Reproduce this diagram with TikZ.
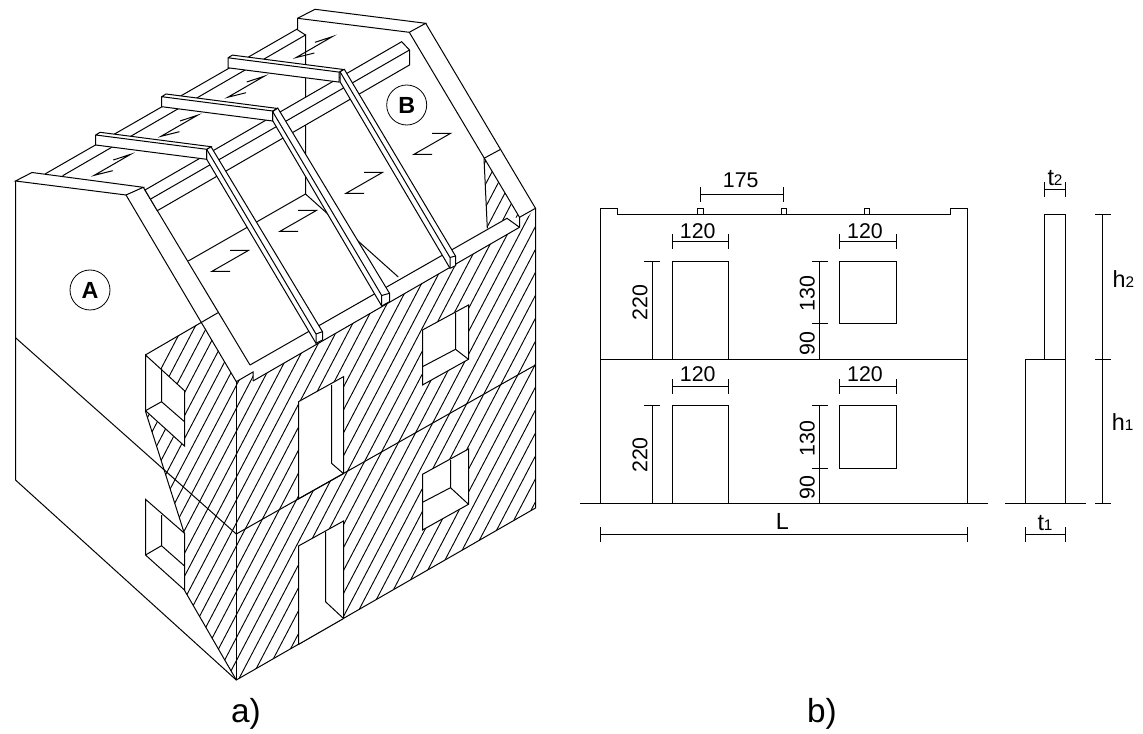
\documentclass[tikz,border=0pt]{standalone}
\usepackage{fontspec}
\setmainfont{Liberation Sans}
\newcommand{\subdigit}[1]{{\fontsize{11.5}{12}\selectfont #1}}
\tikzset{
    edge/.style={line width=0.75pt,line join=miter},
    solid white/.style={edge,draw=black,fill=white},
    hatchline/.style={line width=0.7pt},
    dimline/.style={line width=0.75pt},
    dimtext/.style={inner sep=0pt,font=\fontsize{16}{17}\selectfont},
    lettertext/.style={inner sep=0pt,font=\fontsize{17.5}{18}\selectfont},
    bigtext/.style={inner sep=0pt,font=\fontsize{25}{26}\selectfont},
    marker/.style={circle,draw,line width=0.6pt,minimum size=30pt,inner sep=0pt,font=\bfseries\fontsize{17.5}{18}\selectfont},
}
\begin{document}
\begin{tikzpicture}[x=0.75pt,y=-0.75pt,edge]
    \useasboundingbox (0,0) rectangle (1143,734);
    %
    % hatching of the two walls and the gable corner
    \begin{scope}
        \clip (145.3,355) -- (201.7,321.7) -- (236.3,381.7) -- (253,372) -- (253,381)
            -- (519.3,227.3) -- (535,208.3) -- (535,508) -- (236.3,680) -- (184.3,590)
            -- (184.3,533.3) -- (145.3,410.7) -- (184.3,446) -- (184.3,390.7) -- cycle
            (484,158.3) -- (519.3,217.3) -- (507,218.3) -- (487.3,228.3) -- cycle;
        \foreach \k in {-8,...,30}
            \draw[hatchline] ({449.9+12*\k-0.523*140},140) -- ({449.9+12*\k-0.523*700},700);
    \end{scope}
    %
    % isometric outline
    \draw (15.5,181) -- (15.5,480) -- (236.3,680) -- (535.5,508) -- (535.5,208.3);
    \draw (236.5,381.7) -- (236.5,680);
    \draw (145.3,410.7) -- (184.3,533.3);
    \draw (184.3,590) -- (236.3,680);
    \draw (145.3,355) -- (218,312.7);
    %
    % openings in the side wall
    \draw[solid white] (145.5,355) -- (184.5,390.7) -- (184.5,446) -- (145.5,410.7) -- cycle;
    \draw (161.5,368.3) -- (161.5,401.7) -- (184.5,421.7);
    \draw (145.5,410.7) -- (161.5,401.7);
    \draw[solid white] (145.5,499.3) -- (184.5,533.3) -- (184.5,590) -- (145.5,555) -- cycle;
    \draw (161.5,515) -- (161.5,545.7) -- (184.5,566);
    \draw (145.5,555) -- (161.5,545.7);
    %
    % openings in the front wall
    \draw[solid white] (298.5,401.7) -- (343.5,376.7) -- (343.5,473.6) -- (298.5,498.9) -- cycle;
    \draw (331.5,385) -- (331.5,463.3) -- (343.5,473.6);
    \draw[solid white] (298.5,546) -- (343.5,521) -- (343.5,618.5) -- (298.5,644.4) -- cycle;
    \draw (325.5,531.7) -- (325.5,601.7) -- (343.5,618.5);
    \draw[solid white] (422.5,330) -- (468.5,305) -- (468.5,359.3) -- (422.5,385) -- cycle;
    \draw (455.5,312.7) -- (455.5,349.3) -- (468.5,359.3);
    \draw (422.5,366.7) -- (455.5,349.3);
    \draw[solid white] (422.5,474.3) -- (468.5,449) -- (468.5,504.3) -- (422.5,530) -- cycle;
    \draw (450.5,460) -- (450.5,487.7) -- (468.5,504.3);
    \draw (422.5,502.3) -- (450.5,487.7);
    %
    % floor lines
    \draw (15.5,337.7) -- (236.3,534) -- (535.5,365);
    %
    % gable A
    \draw (15.5,181) -- (32,172.5) -- (143.3,187.3) -- (126,195) -- cycle;
    \draw (126,195) -- (236.3,381.7) -- (253,372) -- (253,381);
    \draw (143.3,187.3) -- (250,365);
    % gable B
    \draw (297.5,29.3) -- (297.5,18.3) -- (315,9.3) -- (425.7,23.3) -- (409.3,32.3) -- (297.5,18.3);
    \draw (409.3,32.3) -- (519.5,217.3) -- (519.5,227.3);
    \draw (425.7,23.3) -- (535.5,208.3) -- (519.5,217.3);
    \draw (484,158.3) -- (500.7,149.3);
    \draw (484,158.3) -- (487.3,228.3);
    %
    % eaves beam
    \draw (250,365) -- (507,218.3) -- (519.5,227.3);
    \draw (253,381) -- (519.5,227.3);
    %
    % roof plane lines, hidden wall, ridge purlins
    \draw (45,174) -- (296.7,29.3) -- (305.5,35);
    \draw (62.7,175.7) -- (305.5,35) -- (305.5,194);
    \draw (188.3,261) -- (305.5,194) -- (398.3,277);
    %
    % main purlin
    \draw[solid white] (145,190) -- (401.7,41.7) -- (409.5,50) -- (409.5,65) -- (157.3,210.7) -- cycle;
    \draw (150.7,199) -- (409.5,50);
    %
    % rafters
    \draw[solid white] (206.7,159.3) -- (316,343.3) -- (322.5,340) -- (322.5,331.7) -- (211,146.7) -- (206.7,149.3) -- cycle;
    \draw (206.7,149.3) -- (316,334) -- (322.5,331.7) (316,334) -- (316,343.3);
    \draw[solid white] (272.7,120.7) -- (381.7,306) -- (389.5,301.7) -- (389.5,293.3) -- (277.7,108) -- (272.7,111.7) -- cycle;
    \draw (272.7,111.7) -- (381.7,295.5) -- (389.5,293.3) (381.7,295.5) -- (381.7,306);
    \draw[solid white] (340,81.7) -- (450,268.3) -- (455.5,265.7) -- (455.5,256) -- (344.3,69.3) -- (340,71.7) -- cycle;
    \draw (340,71.7) -- (450,257.5) -- (455.5,256) (450,257.5) -- (450,268.3);
    %
    % cross beams
    \foreach \dx/\dy in {0/0,66/-38.3,132.4/-77.2}
        \draw[solid white,shift={(\dx,\dy)}] (95.7,135) -- (100,132.3) -- (211,146.7) -- (206.7,149.3) -- (206.7,159.3) -- (95.7,145) -- cycle (95.7,135) -- (206.7,149.3);
    %
    % span marks
    \foreach \dx/\dy in {0/0,66.7/-39,133.4/-78,201.7/-117.7}
        \draw[shift={(\dx,\dy)}] (113.3,160) -- (130.7,154.3) -- (94.3,175.3) -- (112.7,170.7);
    \foreach \dx/\dy in {0/0,68/-40,134/-78,202/-117}
        \draw[shift={(\dx,\dy)}] (230,250.5) -- (248.3,250.5) -- (211.7,271.5) -- (230,271.5);
    %
    \node[marker] (markerA) at (90,290) {A};
    \node[marker] (markerB) at (406.7,105) {B};
    %
    % elevation
    \draw (600.5,359.5) -- (600.5,208.5) -- (617.5,208.5) -- (617.5,214.5) -- (950.5,214.5)
        -- (950.5,208.5) -- (967.5,208.5) -- (967.5,503.5);
    \draw (600.5,359.5) -- (600.5,503.5);
    \draw (600.5,359.5) -- (967.5,359.5);
    \draw (580,503.5) -- (987.5,503.5);
    \foreach \xa/\xb in {697.5/703.5,781.5/786.5,864.5/869.5}
        \draw (\xa,214.5) -- (\xa,208.5) -- (\xb,208.5) -- (\xb,214.5);
    \foreach \yt/\yb in {261.5/359.5,405.5/503.5}
        \draw (672.5,\yb) -- (672.5,\yt) -- (728.5,\yt) -- (728.5,\yb);
    \draw (839.5,261.5) rectangle (896.5,323.5);
    \draw (839.5,405.5) rectangle (896.5,468.5);
    %
    % section
    \draw (1044.5,359.5) -- (1044.5,214.5) -- (1065.5,214.5) -- (1065.5,359.5);
    \draw (1025.5,503.5) -- (1025.5,359.5) -- (1065.5,359.5) -- (1065.5,503.5);
    \draw (1005,503.5) -- (1086,503.5);
    %
    % horizontal dimension lines
    \foreach \xa/\xb/\yy in {700.5/783.5/194.5,672.5/728.5/241.5,839.5/896.5/241.5,672.5/728.5/386.5,
            839.5/896.5/386.5,600.5/967.5/534.5,1044.5/1065.5/189.5,1025.5/1065.5/534.5}
        \draw[dimline] (\xa,\yy-7.5) -- (\xa,\yy+7.5) (\xa,\yy) -- (\xb,\yy) (\xb,\yy-7.5) -- (\xb,\yy+7.5);
    % vertical dimension lines
    \draw[dimline] (652.5,261.5) -- (652.5,359.5) (644,261.5) -- (659.5,261.5);
    \draw[dimline] (652.5,405.5) -- (652.5,503.5) (644,405.5) -- (659.5,405.5);
    \draw[dimline] (819.5,261.5) -- (819.5,359.5) (812,261.5) -- (827.5,261.5) (812,323.5) -- (827.5,323.5);
    \draw[dimline] (819.5,405.5) -- (819.5,503.5) (812,405.5) -- (827.5,405.5) (812,468.5) -- (827.5,468.5);
    \draw[dimline] (1102.5,214.5) -- (1102.5,503.5);
    \foreach \yy in {214.5,359.5,503.5}
        \draw[dimline] (1095,\yy) -- (1110.5,\yy);
    %
    % dimension values
    \node[dimtext] (span) at (740.7,180.7) {175};
    \node[dimtext] (doorw) at (697.7,230.7) {120};
    \node[dimtext] (windw) at (865,230.7) {120};
    \node[dimtext] (doorwlow) at (697.7,374) {120};
    \node[dimtext] (windwlow) at (865,374) {120};
    \node[dimtext,rotate=90] (doorh) at (640,302.7) {220};
    \node[dimtext,rotate=90] (doorhlow) at (640,455) {220};
    \node[dimtext,rotate=90] (windh) at (807.3,293.3) {130};
    \node[dimtext,rotate=90] (windhlow) at (807.3,438.3) {130};
    \node[dimtext,rotate=90] (sill) at (807.3,343.3) {90};
    \node[dimtext,rotate=90] (silllow) at (807.3,487.3) {90};
    \node[lettertext] (length) at (782.3,521.7) {L};
    \node[lettertext] (thtwo) at (1055,178) {t\subdigit{2}};
    \node[lettertext] (thone) at (1045,523) {t\subdigit{1}};
    \node[lettertext] (htwo) at (1123.3,279) {h\subdigit{2}};
    \node[lettertext] (hone) at (1122.7,422.3) {h\subdigit{1}};
    %
    \node[bigtext] (parta) at (246,714) {a)};
    \node[bigtext] (partb) at (822,714) {b)};
\end{tikzpicture}
\end{document}
